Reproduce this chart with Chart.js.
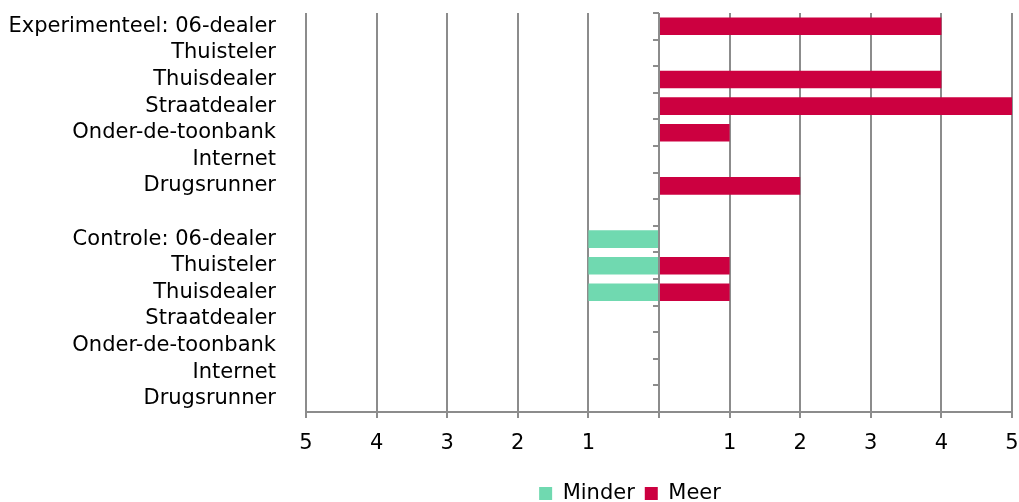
<!DOCTYPE html>
<html>
<head>
<meta charset="utf-8">
<script src="https://cdn.jsdelivr.net/npm/chart.js@4/dist/chart.umd.min.js"></script>
<style>
  html, body { margin: 0; padding: 0; background: #fff; }
  #wrap { width: 1019px; height: 502px; }
</style>
</head>
<body>
<div id="wrap"><canvas id="chart"></canvas></div>
<script>
const categories = [
  'Experimenteel: 06-dealer', 'Thuisteler', 'Thuisdealer', 'Straatdealer',
  'Onder-de-toonbank', 'Internet', 'Drugsrunner',
  '',
  'Controle: 06-dealer', 'Thuisteler', 'Thuisdealer', 'Straatdealer',
  'Onder-de-toonbank', 'Internet', 'Drugsrunner',
]
// aantallen, Minder wordt links van nul getekend
const minder = [0, 0, 0, 0, 0, 0, 0, null, 1, 1, 1, 0, 0, 0, 0]
const meer = [4, 0, 4, 5, 1, 0, 2, null, 0, 1, 1, 0, 0, 0, 0]
const xMin = -5
const xMax = 5

const gridColor = '#8c8c8c'

// nul-as met streepjes, over de balken heen
const zeroAxis = {
  id: 'zeroAxis',
  afterDatasetsDraw(chart) {
    const { ctx, scales: { x, y }, chartArea } = chart
    const x0 = Math.round(x.getPixelForValue(0))
    const half = (y.getPixelForValue(1) - y.getPixelForValue(0)) / 2
    ctx.save()
    ctx.strokeStyle = gridColor
    ctx.lineWidth = 2
    ctx.beginPath()
    ctx.moveTo(x0, chartArea.top)
    ctx.lineTo(x0, chartArea.bottom)
    for (let i = 0; i < categories.length; i++) {
      const py = Math.round(y.getPixelForValue(i) - half)
      ctx.moveTo(x0 - 6, py)
      ctx.lineTo(x0, py)
    }
    ctx.stroke()
    ctx.restore()
  },
}

// legenda iets naar rechts en omlaag, zoals in het origineel
const legendShift = {
  id: 'legendShift',
  afterLayout(chart) {
    const lg = chart.legend
    const dx = 630 - (lg.left + lg.right) / 2
    lg.left += dx
    lg.right += dx
    lg.top += 12
    lg.bottom += 12
  },
}

Chart.defaults.font.family = "Verdana, 'DejaVu Sans', sans-serif"
Chart.defaults.font.size = 21
Chart.defaults.color = '#000'

new Chart(document.getElementById('chart'), {
  type: 'bar',
  data: {
    labels: categories,
    datasets: [
      {
        label: 'Minder',
        data: minder.map(v => (v === null ? null : -v)),
        backgroundColor: '#70d9b0',
        borderWidth: 0,
        barPercentage: 0.66,
        categoryPercentage: 1,
      },
      {
        label: 'Meer',
        data: meer,
        backgroundColor: '#cc0040',
        borderWidth: 0,
        barPercentage: 0.66,
        categoryPercentage: 1,
      },
    ],
  },
  options: {
    indexAxis: 'y',
    responsive: true,
    maintainAspectRatio: false,
    animation: false,
    layout: { padding: { top: 13, right: 7, left: 0, bottom: 0 } },
    scales: {
      x: {
        stacked: true,
        min: xMin,
        max: xMax,
        ticks: {
          stepSize: 1,
          padding: 13,
          callback: v => (v === 0 ? '' : Math.abs(v)),
        },
        grid: { color: gridColor, lineWidth: 2, tickLength: 6 },
        border: { display: true, color: gridColor, width: 2 },
        afterFit: s => {
          s.height = 49
          s.paddingLeft = 0
          s.paddingRight = 0
        },
      },
      y: {
        stacked: true,
        grid: { display: false },
        border: { display: false },
        ticks: { padding: 22, autoSkip: false },
        afterFit: s => {
          s.width = 306
          s.paddingTop = 0
          s.paddingBottom = 0
        },
      },
    },
    plugins: {
      legend: {
        position: 'bottom',
        labels: { boxWidth: 13, boxHeight: 13, padding: 10 },
      },
      tooltip: { enabled: false },
    },
  },
  plugins: [zeroAxis, legendShift],
})
</script>
</body>
</html>
